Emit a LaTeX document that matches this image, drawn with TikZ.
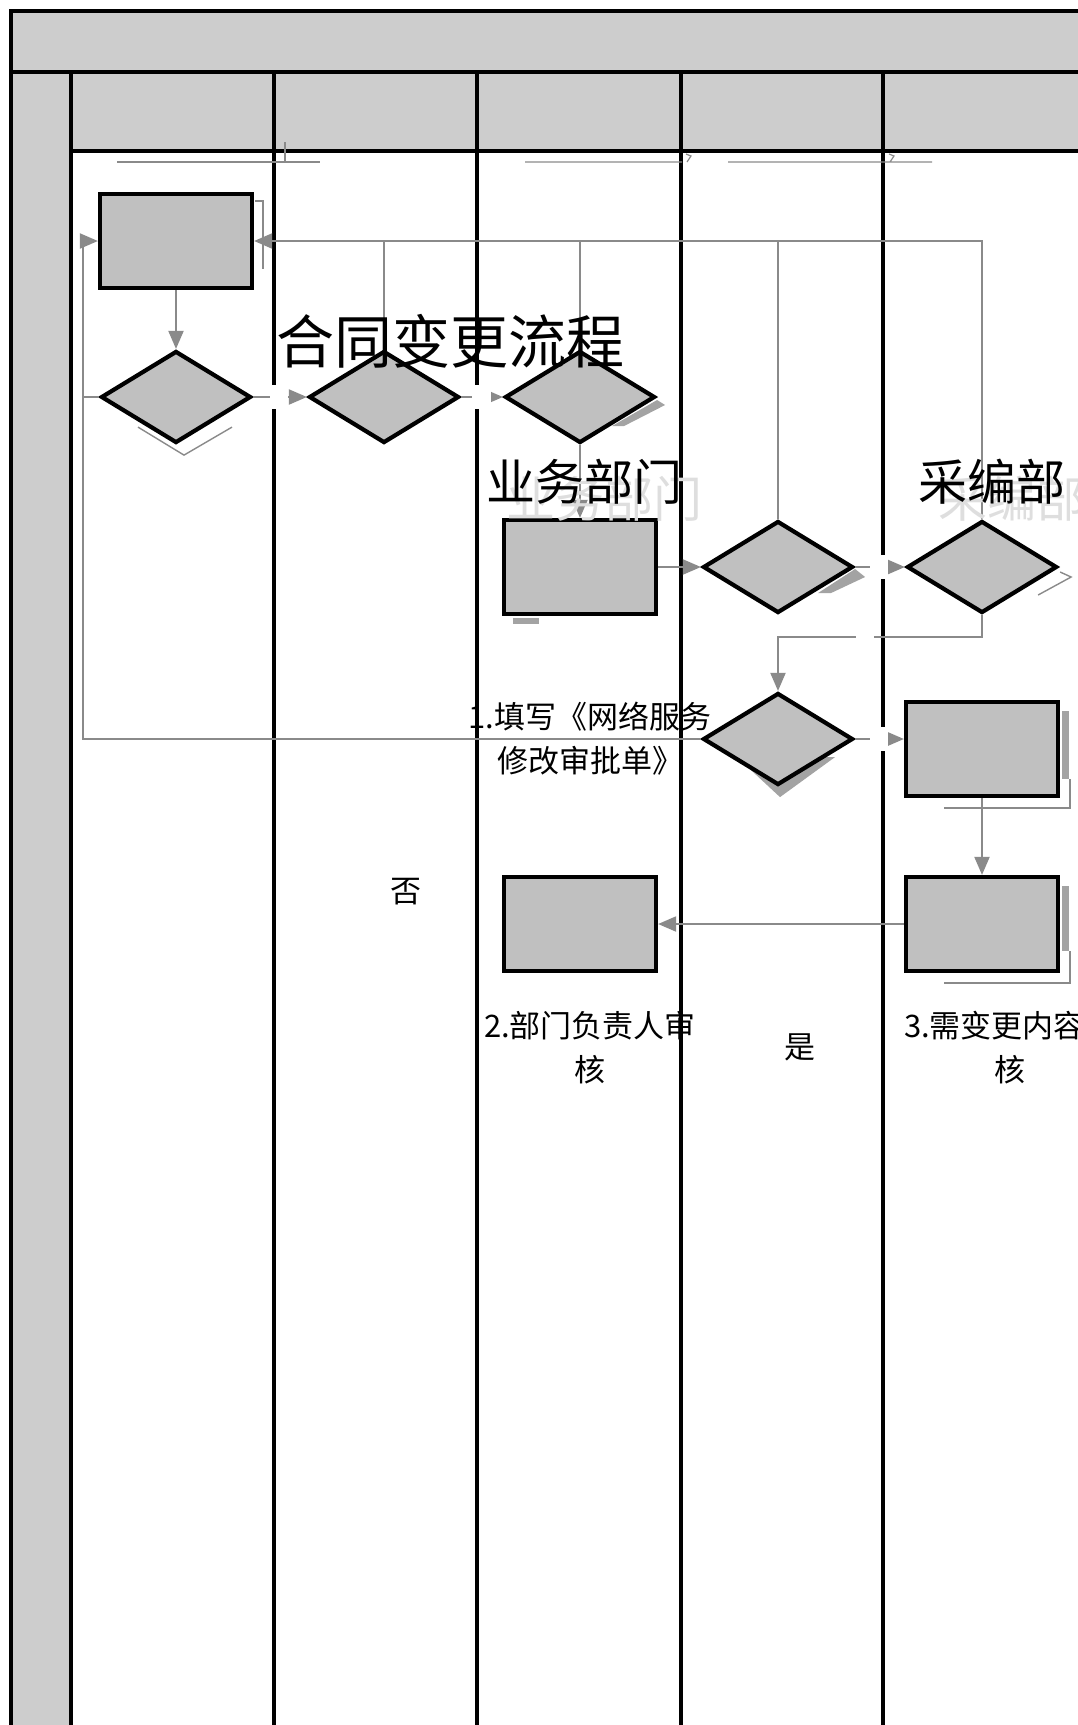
\documentclass[tikz,border=0pt]{standalone}
\usepackage{fontspec}
\newfontfamily\cjk{Noto Sans CJK SC}
\usepackage{tikz}
\usetikzlibrary{arrows.meta,positioning,calc,shapes.geometric,backgrounds}
\definecolor{ink}{HTML}{000000}
\definecolor{band}{HTML}{CDCDCD}
\definecolor{cell}{HTML}{C0C0C0}
\definecolor{wire}{HTML}{8A8A8A}
\definecolor{shadowgray}{HTML}{A3A3A3}
\definecolor{ghost}{HTML}{DEDEDE}
\tikzset{
  >={Triangle[length=18pt,width=15pt]},
  divider/.style={draw=ink, line width=4pt},
  stepbox/.style={rectangle, draw=ink, fill=cell, line width=4.2pt, inner sep=0pt,
    minimum width=152pt, minimum height=94pt},
  decision/.style={diamond, draw=ink, fill=cell, line width=4.2pt, inner sep=0pt,
    minimum width=150pt, minimum height=92pt},
  conn/.style={draw=wire, line width=2pt},
  arr/.style={conn, ->},
  jumpgap/.style={fill=white, draw=none},
  artifact/.style={draw=wire, line width=1.4pt},
  shd/.style={fill=shadowgray, draw=none},
  ttl/.style={font=\cjk\fontsize{58}{64}\selectfont, inner sep=0pt},
  lanelbl/.style={font=\cjk\fontsize{49}{54}\selectfont, inner sep=0pt},
  ghostlbl/.style={lanelbl, text=ghost},
  lbl/.style={font=\cjk\fontsize{31}{44}\selectfont, align=center, inner sep=0pt},
}

\begin{document}
\begin{tikzpicture}[x=1pt, y=-1pt]
  \useasboundingbox (0,0) rectangle (1078,1725);
  \clip (0,0) rectangle (1078,1725);

  % ---------------- frame and lanes ----------------
  \fill[band] (11,11) rectangle (1100,72);
  \fill[band] (11,72) rectangle (71,1740);
  \fill[band] (71,72) rectangle (1100,151);
  \draw[divider] (1100,11) -- (11,11) -- (11,1740);
  \draw[divider] (11,72) -- (1100,72);
  \draw[divider] (71,72) -- (71,1740);
  \draw[divider] (71,151) -- (1100,151);
  \foreach \lx in {274,477,681,883}
    \draw[divider] (\lx,72) -- (\lx,1740);
  % stray underlines below the header
  \draw[artifact, line width=1.2pt] (117,162) -- (320,162) (285,142) -- (285,162);
  \draw[artifact, line width=1.2pt] (525,162) -- (682,162) (686,154) -- (691,156) -- (687,162);
  \draw[artifact, line width=1.2pt] (728,162) -- (932,162) (889,154) -- (894,156) -- (890,162);

  % ---------------- steps ----------------
  \node[stepbox]  (start)  at (176,241) {};
  \node[decision] (chk1)   at (176,397) {};
  \node[decision] (chk2)   at (384,397) {};
  \node[decision] (chk3)   at (580,397) {};
  \node[stepbox]  (form)   at (580,567) {};
  \node[decision] (chk4)   at (778,567) {};
  \node[decision] (chk5)   at (982,567) {};
  \node[decision] (chk6)   at (778,739) {};
  \node[stepbox]  (edit)   at (982,749) {};
  \node[stepbox]  (review) at (982,924) {};
  \node[stepbox]  (done)   at (580,924) {};

  % ---------------- connectors ----------------
  \coordinate (loop) at (83,739);
  \coordinate (bend) at (982,637);
  \draw[arr] (start) -- (chk1);
  \draw[arr] (chk1) -- (chk2);
  \draw[arr] (chk2) -- (chk3);
  \draw[arr] (chk3) -- (form);
  \draw[arr] (form) -- (chk4);
  \draw[arr] (chk4) -- (chk5);
  \draw[arr] (chk5.south) -- (bend) -| (chk6.north);
  \draw[arr] (chk6.east) -- (chk6.east -| edit.west);
  \draw[arr] (edit) -- (review);
  \draw[arr] (review) -- (done);
  % back to the first step
  \draw[arr] (chk5.north) |- (start.east);
  \foreach \n in {chk2,chk3,chk4}
    \draw[conn] (\n.north) -- (\n.north |- start.east);
  \draw[arr] (chk6.west) -- (loop) |- (start.west);
  \draw[conn] (chk1.west) -- (chk1.west -| loop);
  % line jumps where connectors cross a lane
  \foreach \ga/\gb/\gy in {270/288/397, 472/491/397, 870/888/567, 870/888/739}
    \fill[jumpgap] (\ga,\gy-12) rectangle (\gb,\gy+12);
  \fill[jumpgap] (856,633) rectangle (874,641);

  % ---------------- shadows ----------------
  \begin{scope}[on background layer]
    \fill[shd] ($(chk3.east)+(0,3)$) -- ++(8,5) -- ++(-41,21) -- ++(-12,0) -- cycle;
    \fill[shd] ($(chk4.east)+(0,2)$) -- ++(10,8) -- ++(-34,16) -- ++(-13,0) -- cycle;
    \fill[shd] ($(chk6.south)+(-41,-30)$) -- ++(43,40) -- ++(55,-40) -- cycle;
    \fill[shd] ($(form.south west)+(11,2)$) rectangle ++(26,6);
    \fill[shd] ($(edit.north east)+(2,11)$) rectangle ($(edit.south east)+(9,-19)$);
    \fill[shd] ($(review.north east)+(2,11)$) rectangle ($(review.south east)+(9,-22)$);
  \end{scope}
  \draw[artifact] ($(start.north east)+(1,9)$) -- ++(8,0) -- ++(0,68);
  \draw[artifact] ($(chk1.south)+(-38,-18)$) -- ++(46,28) -- ++(48,-28);
  \draw[artifact] ($(chk5.east)+(1,5)$) -- ++(11,5) -- ++(-33,18);
  \draw[artifact] ($(edit.south east)+(10,-19)$) -- ++(0,29) -- ($(edit.south west)+(40,10)$);
  \draw[artifact] ($(review.south east)+(10,-22)$) -- ++(0,32) -- ($(review.south west)+(40,10)$);

  % ---------------- texts ----------------
  \node[ghostlbl] (bizghost) at (604,499) {业务部门};
  \node[ghostlbl] (edghost)  at (1012,499) {采编部};
  \node[ttl] (title) at (450,341) {合同变更流程};
  \node[lanelbl] (biz) at (584,482) {业务部门};
  \node[lanelbl] (ed)  at (992,482) {采编部};
  \node[lbl] (t1)  at (590,739)  {1.填写《网络服务\\修改审批单》};
  \node[lbl] (t2)  at (590,1048) {2.部门负责人审\\核};
  \node[lbl] (t3)  at (1010,1048) {3.需变更内容审\\核};
  \node[lbl] (no)  at (406,892)  {否};
  \node[lbl] (yes) at (800,1047) {是};
\end{tikzpicture}
\end{document}
